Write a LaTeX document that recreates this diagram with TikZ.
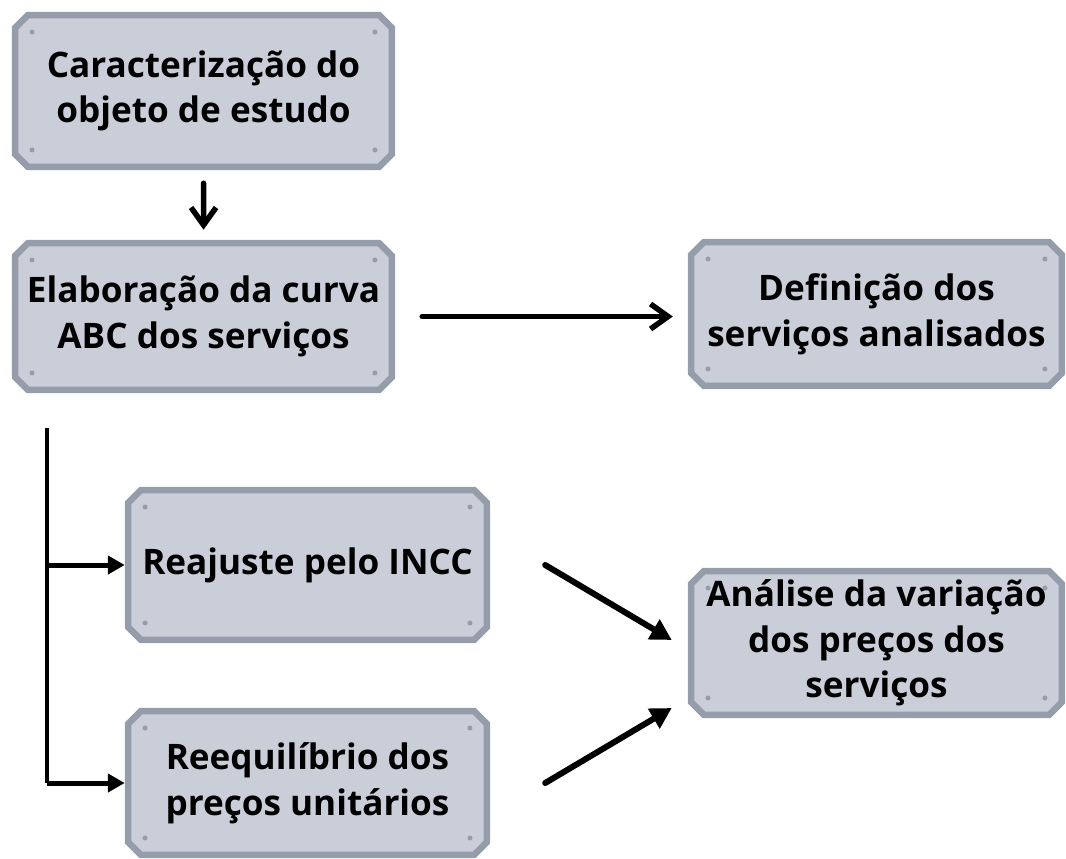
\documentclass[tikz,border=0pt]{standalone}
\usepackage{fontspec}
\setmainfont{Open Sans}
\usepackage{tikz}
\usetikzlibrary{positioning, shapes.misc, arrows.meta}
\definecolor{boxfill}{RGB}{201,206,217}
\definecolor{boxedge}{RGB}{150,157,170}

\begin{document}
\begin{tikzpicture}[x=0.02cm, y=-0.02cm,
        etapa/.style={chamfered rectangle, chamfered rectangle xsep=0.13cm,
            chamfered rectangle ysep=0.13cm, fill=boxfill, draw=boxedge,
            line width=0.13cm, align=center, inner sep=0pt,
            font=\fontsize{20}{26}\selectfont\bfseries,
            path picture={
                \foreach \cx/\cy/\ax in {0.34/-0.34/north west, -0.34/-0.34/north east,
                                          0.34/0.34/south west, -0.34/0.34/south east}
                    \fill[boxedge] ([shift={(\cx cm,\cy cm)}]path picture bounding box.\ax) circle (0.05cm);
            }},
        seta/.style={line width=0.11cm, line cap=round, -{Straight Barb[length=0.35cm, width=0.5cm]}},
        setacheia/.style={line width=0.1cm, -{Triangle[length=0.34cm, width=0.36cm]}},
        setadiag/.style={line width=0.12cm, line cap=round, -{Triangle[length=0.42cm, width=0.44cm]}}]
        \useasboundingbox (0,0) rectangle (1066,859);
        % left column
        \node[etapa, minimum width=7.54cm, minimum height=3.04cm] (carac) at (203.5,91)
            {Caracterização do\\objeto de estudo};
        \node[etapa, minimum width=7.54cm, minimum height=2.94cm] (curva) at (203.5,316.5)
            {Elaboração da curva\\ABC dos serviços};
        % right column
        \node[etapa, minimum width=7.42cm, minimum height=2.88cm] (defin) at (876.5,314)
            {Definição dos\\serviços analisados};
        \node[etapa, minimum width=7.42cm, minimum height=2.88cm] (analise) at (876.5,643)
            {Análise da variação\\dos preços dos\\serviços};
        % middle
        \node[etapa, minimum width=7.18cm, minimum height=3.0cm] (incc) at (307.5,565)
            {Reajuste pelo INCC};
        \node[etapa, minimum width=7.18cm, minimum height=2.88cm] (reeq) at (307.5,783)
            {Reequilíbrio dos\\preços unitários};
        \coordinate (tronco) at (47,428);

        % arrows
        \draw[seta, shorten <=0.26cm, shorten >=0.2cm] (carac) -- (curva);
        \draw[seta, shorten <=0.54cm, shorten >=0.3cm] (curva.east) -- (curva.east -| defin.west);
        \draw[line width=0.1cm] (tronco) -- (tronco |- reeq.west);
        \draw[setacheia] (tronco |- incc.west) -- (incc.west);
        \draw[setacheia] (tronco |- reeq.west) -- (reeq.west);
        \draw[setadiag] ([xshift=1.1cm]incc.east) -- ([xshift=-0.32cm, yshift=0.06cm]analise.west);
        \draw[setadiag] ([xshift=1.1cm]reeq.east) -- ([xshift=-0.32cm, yshift=-1.3cm]analise.west);
\end{tikzpicture}
\end{document}
